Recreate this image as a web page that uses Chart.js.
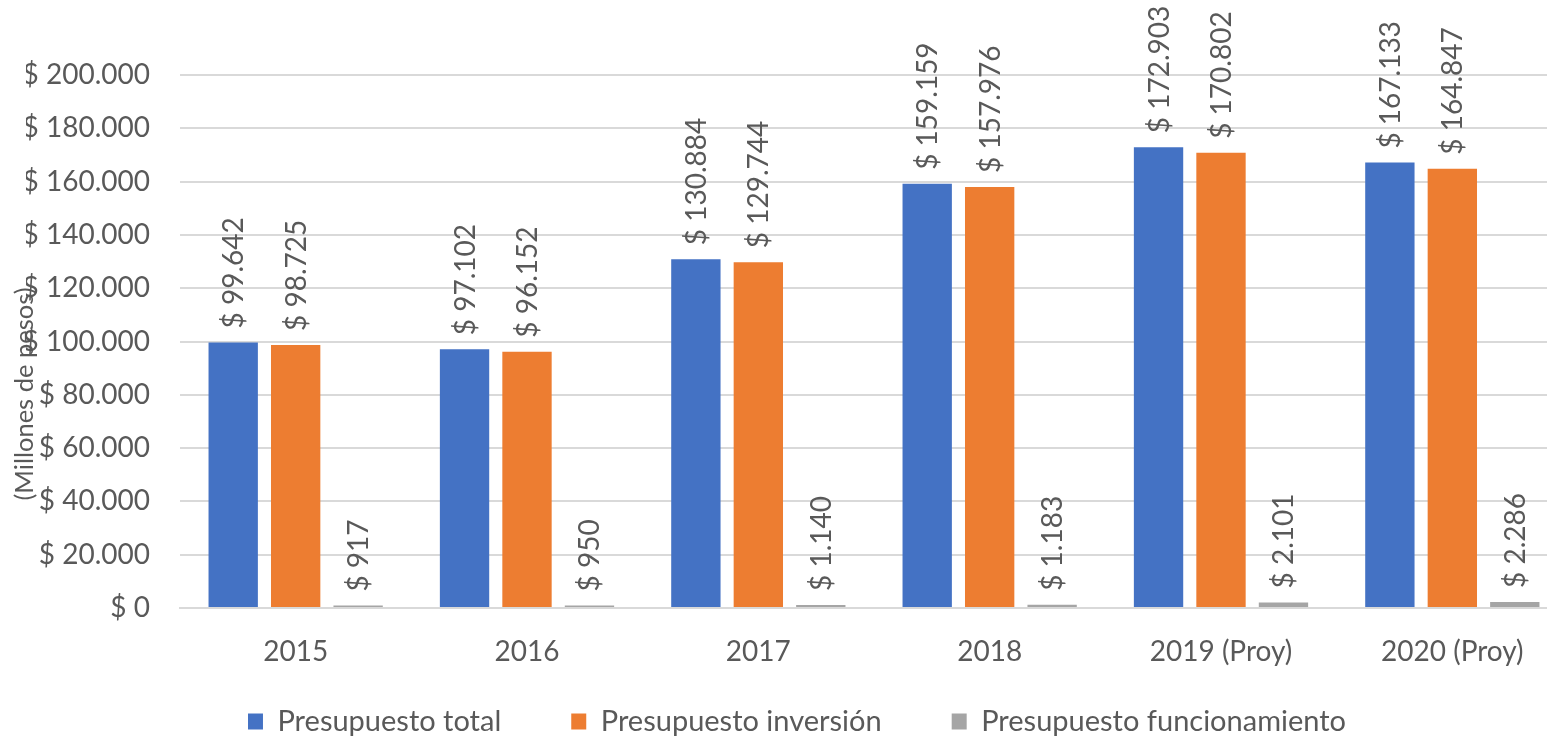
<!DOCTYPE html>
<html>
<head>
<meta charset="utf-8">
<script src="https://cdn.jsdelivr.net/npm/chart.js@4"></script>
<style>
html,body{margin:0;padding:0;background:#fff;overflow:hidden;}
#wrap{position:absolute;left:0;top:0;width:1582px;height:739px;}
</style>
</head>
<body>
<div id="wrap"><canvas id="c" width="1582" height="739"></canvas></div>
<script>
const categories = ['2015','2016','2017','2018','2019 (Proy)','2020 (Proy)'];
const totalValues = [99642, 97102, 130884, 159159, 172903, 167133];
const inversionValues = [98725, 96152, 129744, 157976, 170802, 164847];
const funcionamientoValues = [917, 950, 1140, 1183, 2101, 2286];
const seriesNames = ['Presupuesto total','Presupuesto inversión','Presupuesto funcionamiento'];
const yAxisTitle = '(Millones de pesos)';

const FONT = 'Lato';
const TXT = '#595959';
function fmt(v){ return '$ ' + String(v).replace(/\B(?=(\d{3})+(?!\d))/g, '.'); }

const labelPlugin = {
  id:'barLabels',
  afterLayout(chart){
    const x = chart.scales.x;
    x.bottom = chart.height;
    x.height = x.bottom - x.top;
  },
  afterDatasetsDraw(chart){
    const ctx = chart.ctx;
    ctx.save();
    ctx.font = '28px ' + FONT;
    ctx.fillStyle = TXT;
    ctx.textAlign = 'left';
    ctx.textBaseline = 'middle';
    chart.data.datasets.forEach((ds, di) => {
      const meta = chart.getDatasetMeta(di);
      meta.data.forEach((bar, i) => {
        ctx.save();
        ctx.translate(bar.x + 1, bar.y - 14);
        ctx.rotate(-Math.PI/2);
        ctx.fillText(fmt(ds.data[i]), 0, 0);
        ctx.restore();
      });
    });
    ctx.save();
    ctx.font = '25.5px ' + FONT;
    ctx.translate(25, 394);
    ctx.rotate(-Math.PI/2);
    ctx.textAlign = 'center';
    ctx.textBaseline = 'middle';
    ctx.fillText(yAxisTitle, 0, 0);
    ctx.restore();
    ctx.restore();
  }
};

new Chart(document.getElementById('c'), {
  type:'bar',
  data:{
    labels:categories,
    datasets:[
      {label:seriesNames[0], data:totalValues, backgroundColor:'#4472C4'},
      {label:seriesNames[1], data:inversionValues, backgroundColor:'#ED7D31'},
      {label:seriesNames[2], data:funcionamientoValues, backgroundColor:'#A5A5A5'}
    ]
  },
  options:{
    responsive:false,
    animation:false,
    devicePixelRatio:1,
    layout:{padding:{top:75,right:14,left:26,bottom:-7}},
    datasets:{bar:{categoryPercentage:0.81, barPercentage:0.79}},
    plugins:{
      legend:{
        position:'bottom',
        labels:{font:{family:FONT,size:29}, color:TXT, boxWidth:15, boxHeight:16, padding:70}
      },
      tooltip:{enabled:false}
    },
    scales:{
      x:{
        grid:{display:false, drawTicks:false},
        border:{display:true, color:'#d9d9d9', width:2},
        afterFit(s){ s.height = 29; },
        ticks:{font:{family:FONT,size:28}, color:TXT, padding:27}
      },
      y:{
        min:0, max:200000,
        grid:{color:'#d9d9d9', lineWidth:2, drawTicks:false},
        border:{display:false},
        afterFit(s){ s.width = 154; },
        ticks:{stepSize:20000, font:{family:FONT,size:28}, color:TXT, padding:30,
          callback:(v)=>fmt(v)}
      }
    }
  },
  plugins:[labelPlugin]
});
</script>
</body>
</html>
